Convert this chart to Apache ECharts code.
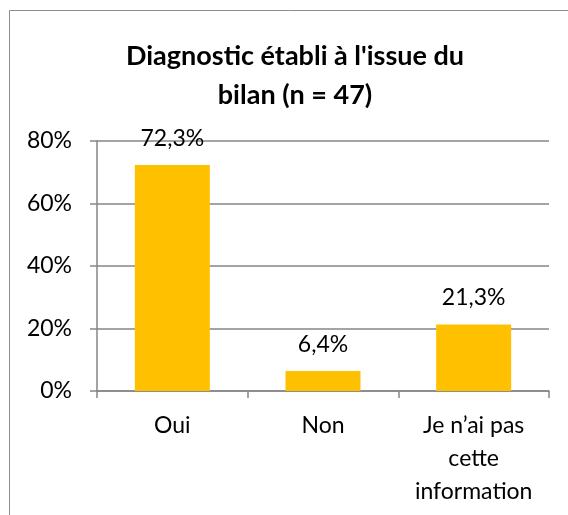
<!DOCTYPE html>
<html>
<head>
<meta charset="utf-8">
<script src="https://cdn.jsdelivr.net/npm/echarts@6/dist/echarts.min.js"></script>
<style>
  html, body { margin: 0; padding: 0; background: #fff; }
  #chart { width: 568px; height: 515px; }
</style>
</head>
<body>
<div id="chart"></div>
<script>
// données du graphique
const categories = ['Oui', 'Non', 'Je n’ai pas\ncette\ninformation']
const values = [72.3, 6.4, 21.3]
const titleText = "Diagnostic établi à l'issue du\nbilan (n = 47)"

const chart = echarts.init(document.getElementById('chart'))
const font = 'Lato, "Open Sans", sans-serif'
const axisGray = '#868686'

const option = {
  animation: false,
  backgroundColor: '#fff',
  textStyle: { fontFamily: font },
  title: {
    text: titleText,
    left: 290,
    top: 32,
    textAlign: 'center',
    textStyle: {
      fontFamily: font,
      fontWeight: 'bold',
      fontSize: 27,
      lineHeight: 39,
      color: '#000'
    }
  },
  // cadre autour du graphique
  graphic: [{
    type: 'rect',
    shape: { x: 9.5, y: 10.5, width: 700, height: 700 },
    style: { fill: null, stroke: '#8c8c8c', lineWidth: 1 },
    silent: true
  }],
  grid: {
    left: 97,
    right: 19,
    top: 141,
    bottom: 124
  },
  xAxis: {
    type: 'category',
    data: categories,
    axisLine: { lineStyle: { color: axisGray, width: 1.5 } },
    axisTick: { show: true, length: 7, lineStyle: { color: axisGray, width: 1.5 } },
    axisLabel: {
      color: '#000',
      fontSize: 23,
      lineHeight: 33,
      margin: 18,
      interval: 0
    }
  },
  yAxis: {
    type: 'value',
    min: 0,
    max: 80,
    interval: 20,
    axisLine: { show: true, lineStyle: { color: axisGray, width: 1.5 } },
    axisTick: { show: true, inside: false, length: 7, lineStyle: { color: axisGray, width: 1.5 } },
    splitLine: { lineStyle: { color: axisGray, width: 1.5 } },
    axisLabel: {
      color: '#000',
      fontSize: 23,
      margin: 25,
      formatter: v => v + '%'
    }
  },
  series: [{
    type: 'bar',
    data: values,
    barWidth: 75,
    itemStyle: { color: '#FFC000' },
    label: {
      show: true,
      position: 'top',
      distance: 15,
      color: '#000',
      fontSize: 23,
      formatter: p => p.value.toFixed(1).replace('.', ',') + '%'
    }
  }]
}
chart.setOption(option)
</script>
</body>
</html>
